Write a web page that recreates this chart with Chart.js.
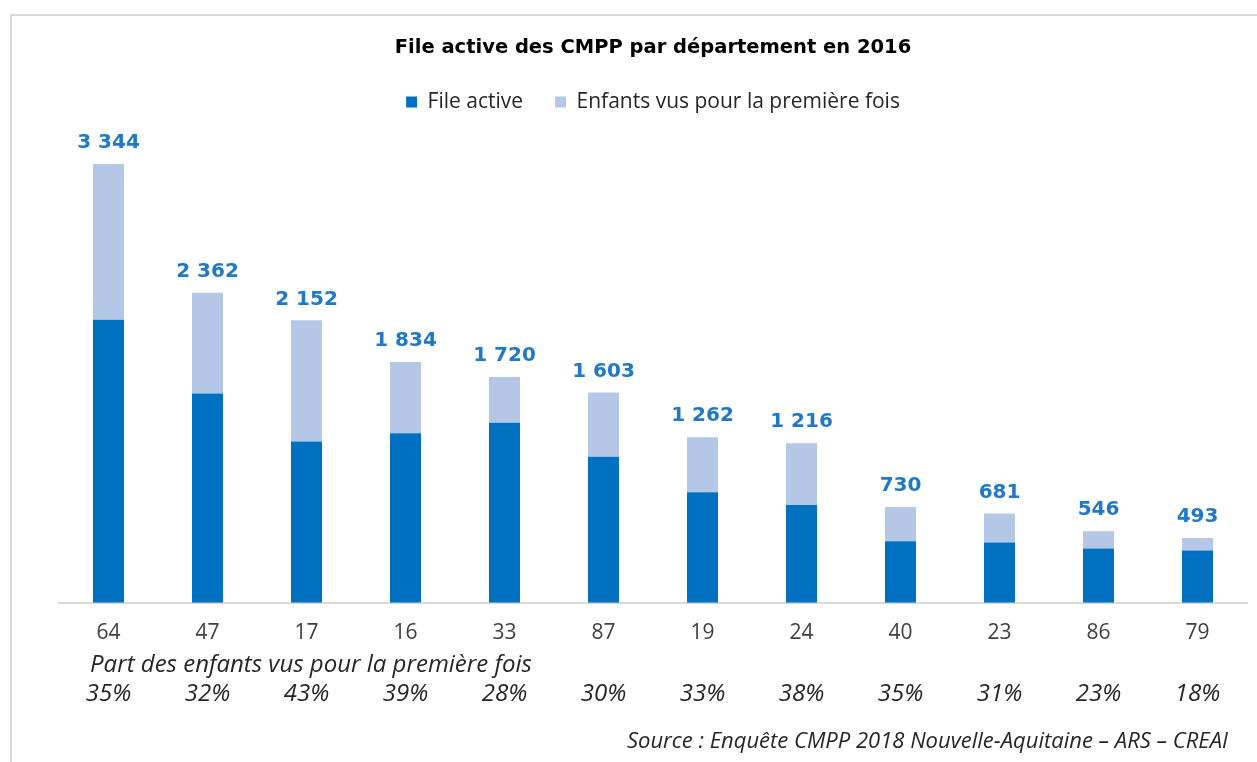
<!DOCTYPE html>
<html lang="fr">
<head>
<meta charset="utf-8">
<title>File active des CMPP par département en 2016</title>
<script src="https://cdn.jsdelivr.net/npm/chart.js@4.4.1/dist/chart.umd.min.js"></script>
<style>
    html, body { margin: 0; padding: 0; background: #fff; }
    #wrap { position: relative; width: 1257px; height: 762px; }
</style>
</head>
<body>
<div id="wrap"><canvas id="cmppChart" width="1257" height="762"></canvas></div>
<script>
// Données
const departements = ['64', '47', '17', '16', '33', '87', '19', '24', '40', '23', '86', '79'];
const fileActiveTotal = [3344, 2362, 2152, 1834, 1720, 1603, 1262, 1216, 730, 681, 546, 493];
const partieFoncee = [2157, 1594, 1228, 1292, 1371, 1112, 842, 746, 468, 460, 414, 399];
const premiereFois = [1187, 768, 924, 542, 349, 491, 420, 470, 262, 221, 132, 94];
const partPremiereFois = ['35%', '32%', '43%', '39%', '28%', '30%', '33%', '38%', '35%', '31%', '23%', '18%'];

const BLEU = '#0070C0';
const BLEU_CLAIR = '#B4C7E7';
const BLEU_TEXTE = '#1F78C8';

// Format "3 344"
function formatNombre(n) {
    return String(n).replace(/\B(?=(\d{3})+(?!\d))/g, ' ');
}

// Cadre gris + fond blanc
const cadrePlugin = {
    id: 'cadre',
    beforeDraw(chart) {
        const ctx = chart.ctx;
        ctx.save();
        ctx.fillStyle = '#fff';
        ctx.fillRect(0, 0, chart.width, chart.height);
        ctx.fillStyle = '#D9D9D9';
        ctx.fillRect(10, 14, chart.width - 10, 2);
        ctx.fillRect(10, 14, 2, chart.height - 14);
        ctx.restore();
    }
};

// Totaux au-dessus des barres + textes du bas
const textesPlugin = {
    id: 'textes',
    afterDraw(chart) {
        const ctx = chart.ctx;
        const x = chart.scales.x;
        const y = chart.scales.y;
        ctx.save();
        ctx.textAlign = 'center';
        ctx.textBaseline = 'middle';

        ctx.font = 'bold 20px "DejaVu Sans"';
        ctx.fillStyle = BLEU_TEXTE;
        fileActiveTotal.forEach((v, i) => {
            ctx.fillText(formatNombre(v), x.getPixelForValue(i), y.getPixelForValue(v) - 21);
        });

        ctx.fillStyle = '#262626';
        ctx.font = 'italic 24px "Open Sans"';
        ctx.textAlign = 'left';
        ctx.fillText('Part des enfants vus pour la première fois', 90, 665);

        ctx.textAlign = 'center';
        partPremiereFois.forEach((p, i) => {
            ctx.fillText(p, x.getPixelForValue(i), 694);
        });

        ctx.textAlign = 'right';
        ctx.font = 'italic 22px "Open Sans"';
        ctx.fillText('Source : Enquête CMPP 2018 Nouvelle-Aquitaine – ARS – CREAI', 1228, 742);
        ctx.restore();
    }
};

document.addEventListener('DOMContentLoaded', () => {
    const ctx = document.getElementById('cmppChart');

    window.cmppChart = new Chart(ctx, {
        type: 'bar',
        data: {
            labels: departements,
            datasets: [{
                label: 'File active',
                data: partieFoncee,
                backgroundColor: BLEU,
                borderWidth: 0
            }, {
                label: 'Enfants vus pour la première fois',
                data: premiereFois,
                backgroundColor: BLEU_CLAIR,
                borderWidth: 0
            }]
        },
        options: {
            responsive: false,
            animation: false,
            layout: {
                padding: { left: 59, right: 10, top: 0, bottom: 98 }
            },
            datasets: {
                bar: {
                    categoryPercentage: 1,
                    barPercentage: 0.313
                }
            },
            plugins: {
                title: {
                    display: true,
                    text: 'File active des CMPP par département en 2016',
                    color: '#000',
                    font: { family: '"DejaVu Sans"', size: 19.5, weight: 'bold', lineHeight: 1.2 },
                    padding: { top: 36, bottom: 0 }
                },
                legend: {
                    display: true,
                    position: 'top',
                    labels: {
                        color: '#262626',
                        font: { family: '"Open Sans"', size: 21 },
                        boxWidth: 11,
                        boxHeight: 11,
                        padding: 32
                    }
                },
                tooltip: { enabled: false }
            },
            scales: {
                x: {
                    stacked: true,
                    grid: { display: false, drawTicks: false },
                    border: { display: true, color: '#D9D9D9', width: 2 },
                    ticks: {
                        color: '#404040',
                        font: { family: '"Open Sans"', size: 21 },
                        padding: 18,
                        maxRotation: 0
                    }
                },
                y: {
                    stacked: true,
                    display: false,
                    min: 0,
                    max: 3660
                }
            }
        },
        plugins: [cadrePlugin, textesPlugin]
    });
});
</script>
</body>
</html>
